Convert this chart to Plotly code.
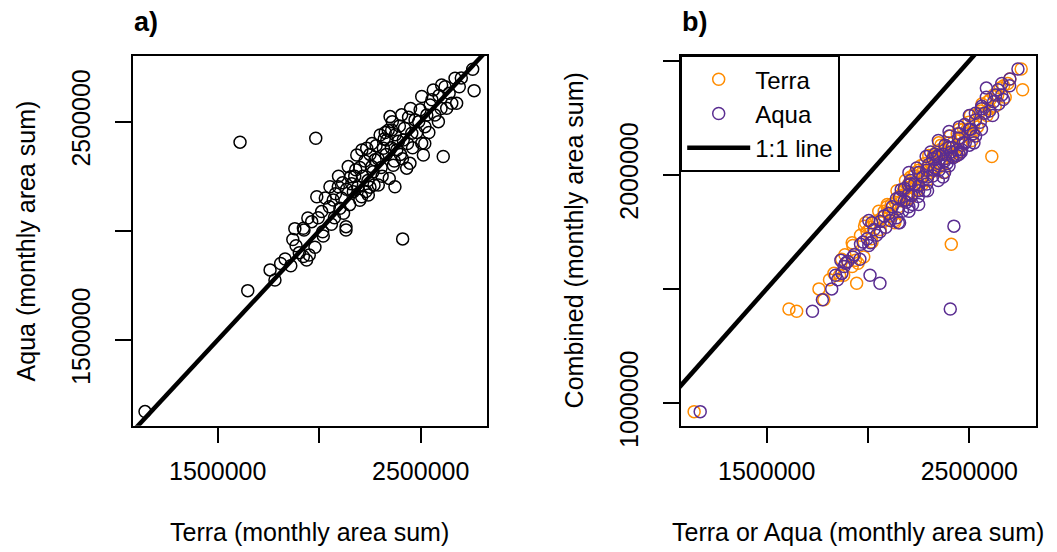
"""Terra vs Aqua monthly area sums, and each against the combined product."""

import plotly.graph_objects as go
from plotly.subplots import make_subplots

# monthly area sums (one entry per month)
terra = [
    1142000, 1648000, 1610000, 1758000, 1782000, 1832000, 1886000, 1902000, 1922000, 1938000,
    1951000, 1979000, 2020000, 2017000, 1925000, 2132000, 2411000, 1983000, 1922000, 1963000,
    1988000, 2012000, 2053000, 2069000, 2094000, 2102000, 2132000, 2143000, 2155000, 2168000,
    2185000, 2209000, 2234000, 2242000, 2259000, 2275000, 2291000, 2300000, 2316000, 2333000,
    2349000, 2357000, 2373000, 2382000, 2406000, 2414000, 2431000, 2447000, 2456000, 2472000,
    2497000, 2505000, 2513000, 2521000, 2505000, 2546000, 2562000, 2587000, 2611000, 2603000,
    2620000, 2628000, 2653000, 2677000, 2669000, 2756000, 2763000, 2050000, 2075000, 2080000,
    2110000, 2120000, 2135000, 2150000, 2160000, 2175000, 2190000, 2200000, 2215000, 2225000,
    2240000, 2250000, 2265000, 2280000, 2290000, 2305000, 2320000, 2330000, 2340000, 2355000,
    2365000, 2375000, 2390000, 2400000, 2420000, 2435000, 2440000, 2460000, 2480000, 2490000,
    2530000, 2540000, 2555000, 2570000, 2590000, 2600000, 2640000, 2690000, 2700000, 2230000,
    2260000, 2310000, 2270000, 2210000, 2180000, 2360000, 2395000, 2325000, 2345000, 2410000,
    2060000, 2030000, 1995000, 2095000, 2115000, 2200000, 2250000, 2370000, 2450000, 2520000,
    1870000, 1860000, 1810000, 1944000, 1880000,
]
aqua = [
    1172000, 1726000, 2406000, 1821000, 1775000, 1871000, 1932000, 1900000, 1882000, 1866000,
    1889000, 1925000, 1976000, 1996000, 2004000, 2004000, 1963000, 2424000, 2012000, 2042000,
    2156000, 2088000, 2202000, 2141000, 2202000, 2103000, 2019000, 2294000, 2248000, 2179000,
    2347000, 2156000, 2378000, 2164000, 2294000, 2325000, 2210000, 2439000, 2378000, 2416000,
    2523000, 2462000, 2202000, 2370000, 2531000, 2416000, 2287000, 2309000, 2447000, 2508000,
    2554000, 2401000, 2347000, 2477000, 2615000, 2576000, 2645000, 2500000, 2340000, 2668000,
    2660000, 2561000, 2584000, 2584000, 2699000, 2740000, 2642000, 2110000, 2060000, 2170000,
    2150000, 2080000, 2190000, 2120000, 2215000, 2250000, 2200000, 2290000, 2250000, 2320000,
    2230000, 2350000, 2270000, 2390000, 2330000, 2290000, 2420000, 2350000, 2460000, 2380000,
    2300000, 2440000, 2410000, 2350000, 2470000, 2400000, 2520000, 2380000, 2450000, 2500000,
    2530000, 2450000, 2600000, 2530000, 2620000, 2560000, 2630000, 2660000, 2700000, 2180000,
    2400000, 2250000, 2210000, 2370000, 2280000, 2500000, 2480000, 2450000, 2240000, 2330000,
    2030000, 2150000, 2060000, 2250000, 2220000, 2140000, 2200000, 2320000, 2560000, 2400000,
    1960000, 1840000, 1850000, 2059000, 2010000,
]
combined = [
    962000, 1402000, 1412000, 1500000, 1452000, 1568000, 1650000, 1620000, 1598000, 1625000,
    1612000, 1640000, 1705000, 1720000, 1690000, 1800000, 1696000, 1775000, 1702000, 1735000,
    1790000, 1770000, 1840000, 1812000, 1860000, 1830000, 1790000, 1930000, 1905000, 1885000,
    1975000, 1900000, 2010000, 1935000, 1990000, 2020000, 1975000, 2085000, 2060000, 2080000,
    2140000, 2110000, 2010000, 2090000, 2170000, 2120000, 2080000, 2100000, 2160000, 2200000,
    2230000, 2170000, 2150000, 2220000, 2260000, 2270000, 2310000, 2260000, 2080000, 2330000,
    2350000, 2300000, 2380000, 2340000, 2390000, 2464000, 2373000, 1800000, 1795000, 1840000,
    1850000, 1820000, 1880000, 1860000, 1910000, 1930000, 1915000, 1960000, 1950000, 1995000,
    1960000, 2020000, 1990000, 2050000, 2030000, 2020000, 2075000, 2050000, 2100000, 2070000,
    2045000, 2110000, 2100000, 2085000, 2140000, 2120000, 2180000, 2130000, 2180000, 2200000,
    2240000, 2210000, 2280000, 2270000, 2320000, 2290000, 2350000, 2400000, 2420000, 1940000,
    2040000, 2010000, 1960000, 1990000, 1930000, 2130000, 2140000, 2090000, 2030000, 2090000,
    1760000, 1790000, 1750000, 1870000, 1870000, 1895000, 1955000, 2070000, 2200000, 2190000,
    1630000, 1560000, 1540000, 1525000, 1560000,
]
one_to_one = [500000, 3000000]

x_ticks = [1500000, 2000000, 2500000]
x_tick_text = ["1500000", "", "2500000"]
ya_ticks = [1500000, 2000000, 2500000]
ya_tick_text = ["1500000", "", "2500000"]
yb_ticks = [1000000, 1500000, 2000000, 2500000]
yb_tick_text = ["1000000", "", "2000000", ""]

W, H = 1057, 552
FONT = "Liberation Sans, Arial, sans-serif"
ORANGE = "#FF8C00"
PURPLE = "#5A2D91"


def px_x(p):
    return p / W


def px_y(p):
    return 1 - p / H


fig = make_subplots(rows=1, cols=2)

fig.add_trace(go.Scatter(
    x=terra, y=aqua, mode="markers", showlegend=False,
    marker=dict(symbol="circle-open", size=12, color="black", line=dict(width=1.5)),
), row=1, col=1)
fig.add_trace(go.Scatter(
    x=one_to_one, y=one_to_one, mode="lines", showlegend=False,
    line=dict(color="black", width=4.5),
), row=1, col=1)

fig.add_trace(go.Scatter(
    x=terra, y=combined, mode="markers", name="Terra",
    marker=dict(symbol="circle-open", size=12, color=ORANGE, line=dict(width=1.5)),
), row=1, col=2)
fig.add_trace(go.Scatter(
    x=aqua, y=combined, mode="markers", name="Aqua",
    marker=dict(symbol="circle-open", size=12, color=PURPLE, line=dict(width=1.5)),
), row=1, col=2)
fig.add_trace(go.Scatter(
    x=one_to_one, y=one_to_one, mode="lines", name="1:1 line",
    line=dict(color="black", width=4.5),
), row=1, col=2)

axis_style = dict(
    showgrid=False, zeroline=False, showline=True, mirror=True,
    linecolor="black", linewidth=1.5, ticks="outside", ticklen=16,
    tickwidth=1.5, tickcolor="black", automargin=False,
    tickfont=dict(family=FONT, size=25, color="black"),
)

fig.update_xaxes(axis_style, ticklabelstandoff=7)
fig.update_yaxes(axis_style, ticklabelstandoff=15, tickangle=-90)
fig.update_xaxes(domain=[px_x(132.7), px_x(486.7)], range=[1081300, 2825000],
                 tickvals=x_ticks, ticktext=x_tick_text, row=1, col=1)
fig.update_xaxes(domain=[px_x(680.7), px_x(1035.7)], range=[1075700, 2827600],
                 tickvals=x_ticks, ticktext=x_tick_text, row=1, col=2)
fig.update_yaxes(domain=[px_y(425.7), px_y(55.7)], range=[1107400, 2802000],
                 tickvals=ya_ticks, ticktext=ya_tick_text, row=1, col=1)
fig.update_yaxes(domain=[px_y(425.7), px_y(55.7)], range=[900400, 2522000],
                 tickvals=yb_ticks, ticktext=yb_tick_text, row=1, col=2)

text_font = dict(family=FONT, size=25, color="black")
panel_font = dict(family=FONT, size=27, color="black")
annotations = [
    dict(text="<b>a)</b>", x=px_x(132), y=px_y(22), xanchor="left", yanchor="middle",
         font=panel_font),
    dict(text="<b>b)</b>", x=px_x(680), y=px_y(22), xanchor="left", yanchor="middle",
         font=panel_font),
    dict(text="Terra (monthly area sum)", x=px_x(309.7), y=px_y(548),
         xanchor="center", yanchor="bottom", font=text_font),
    dict(text="Terra or Aqua (monthly area sum)", x=px_x(858.2), y=px_y(548),
         xanchor="center", yanchor="bottom", font=text_font),
    dict(text="Aqua (monthly area sum)", x=px_x(25.7), y=px_y(240.7), textangle=-90,
         xanchor="center", yanchor="middle", font=text_font),
    dict(text="Combined (monthly area sum)", x=px_x(573.7), y=px_y(240.7), textangle=-90,
         xanchor="center", yanchor="middle", font=text_font),
]
for a in annotations:
    a.update(xref="paper", yref="paper", showarrow=False)

fig.update_layout(
    width=W, height=H,
    margin=dict(l=0, r=0, t=0, b=0),
    plot_bgcolor="white", paper_bgcolor="white",
    font=dict(family=FONT, size=25, color="black"),
    annotations=annotations,
    legend=dict(
        x=px_x(680.7), y=px_y(55.7), xanchor="left", yanchor="top",
        bordercolor="black", borderwidth=1.5, bgcolor="white",
        font=dict(family=FONT, size=24, color="black"),
        itemwidth=63, tracegroupgap=0,
    ),
)

# the page's default body margin would push the figure 8px off the window
fig.write_html("out.html", config={"displayModeBar": False},
               post_script="document.body.style.margin = '0';")
